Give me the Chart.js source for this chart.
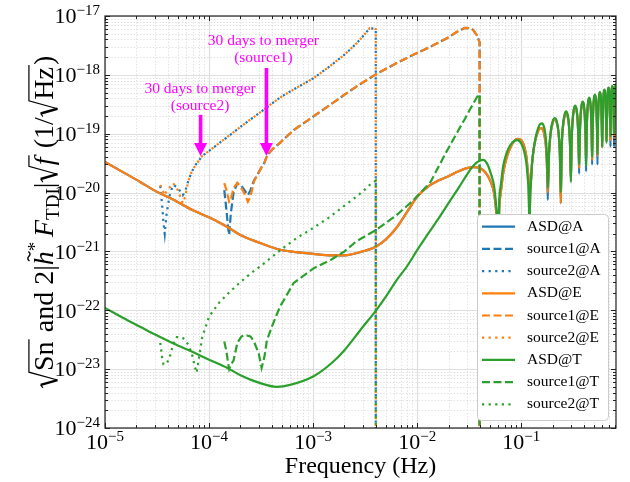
<!DOCTYPE html>
<html>
<head>
<meta charset="utf-8">
<script src="https://cdn.jsdelivr.net/npm/chart.js@4.4.1/dist/chart.umd.min.js"></script>
<style>
  html, body { margin: 0; padding: 0; background: #fff; }
  canvas { display: block; }
</style>
</head>
<body>
<canvas id="chart" width="630" height="482"></canvas>
<script>
// ---- values ----
const xTicks = [1e-5, 1e-4, 1e-3, 1e-2, 1e-1];
const yTicks = [1e-24, 1e-23, 1e-22, 1e-21, 1e-20, 1e-19, 1e-18, 1e-17];
const seriesLabels = ['ASD@A', 'source1@A', 'source2@A', 'ASD@E', 'source1@E', 'source2@E', 'ASD@T', 'source1@T', 'source2@T'];

// noise ASD (A and E overlap, T is the green one)
const asdFreq = [
  1e-5, 1.5e-5, 2.2e-5, 3e-5, 4.6e-5, 7e-5, 1e-4, 1.5e-4, 2e-4, 3e-4, 4.5e-4, 6e-4,
  1e-3, 1.5e-3, 2e-3, 3e-3, 4e-3, 5e-3, 6.3e-3, 8e-3, 0.01, 0.013, 0.016, 0.02, 0.025,
  0.03, 0.035, 0.04, 0.043, 0.047, 0.051, 0.055, 0.058, 0.0595, 0.06,
  0.0605, 0.063, 0.067, 0.072, 0.078, 0.085, 0.092, 0.1, 0.107, 0.112, 0.116, 0.119, 0.12,
  0.1205, 0.123, 0.127, 0.132, 0.138, 0.145, 0.152, 0.159, 0.165, 0.17, 0.174, 0.1775,
  0.18, 0.1848, 0.192, 0.201, 0.21, 0.219, 0.228, 0.2352,
  0.24, 0.2448, 0.252, 0.261, 0.27, 0.279, 0.288, 0.2952,
  0.3, 0.3048, 0.312, 0.321, 0.33, 0.339, 0.348, 0.3552,
  0.36, 0.3648, 0.372, 0.381, 0.39, 0.399, 0.408, 0.4152,
  0.42, 0.4248, 0.432, 0.441, 0.45, 0.459, 0.468, 0.4752,
  0.48, 0.4848, 0.492, 0.501, 0.51, 0.519, 0.528, 0.5352,
  0.54, 0.5448, 0.552, 0.561, 0.57, 0.579, 0.588, 0.5952,
  0.6, 0.6048, 0.612, 0.621, 0.63, 0.639, 0.648, 0.6552,
  0.66, 0.6648, 0.672, 0.681, 0.69, 0.699, 0.708, 0.7152,
  0.72, 0.7248, 0.732, 0.741, 0.75, 0.759, 0.768, 0.7752,
  0.78, 0.7848, 0.792, 0.801, 0.81, 0.814
];
const asdE = [
  3.3e-20, 2.2e-20, 1.5e-20, 1.08e-20, 7.5e-21, 5e-21, 3.8e-21, 2.6e-21, 1.9e-21, 1.42e-21, 1.1e-21, 1e-21,
  9.1e-22, 8.6e-22, 8.6e-22, 1e-21, 1.2e-21, 1.6e-21, 2.5e-21, 4.7e-21, 8.5e-21, 1.3e-20, 1.6e-20, 1.9e-20, 2.3e-20,
  2.6e-20, 2.7e-20, 2.6e-20, 2.4e-20, 2e-20, 1.5e-20, 9.5e-21, 4e-21, 1e-21, 1e-23,
  1.4e-21, 8.8e-21, 2.1e-20, 3.8e-20, 5.6e-20, 7.4e-20, 8.2e-20, 7.8e-20, 6e-20, 4.1e-20, 2.2e-20, 5.5e-21, 1e-23,
  2.1e-21, 1.28e-20, 3.1e-20, 5.6e-20, 8.4e-20, 1.1e-19, 1.25e-19, 1.22e-19, 1.05e-19, 7.8e-20, 5.1e-20, 2.2e-20,
  1e-20, 4.4e-20, 1.03e-19, 1.56e-19, 1.75e-19, 1.56e-19, 1.03e-19, 4.4e-20,
  6.6e-21, 5.6e-20, 1.32e-19, 2e-19, 2.25e-19, 2e-19, 1.32e-19, 5.6e-20,
  1.6e-20, 7.2e-20, 1.7e-19, 2.58e-19, 2.9e-19, 2.58e-19, 1.7e-19, 7.2e-20,
  2.6e-20, 8.5e-20, 2e-19, 3.03e-19, 3.4e-19, 3.03e-19, 2e-19, 8.5e-20,
  3.4e-20, 1e-19, 2.35e-19, 3.56e-19, 4e-19, 3.56e-19, 2.35e-19, 1e-19,
  3.6e-20, 1.12e-19, 2.65e-19, 4e-19, 4.5e-19, 4e-19, 2.65e-19, 1.12e-19,
  4.2e-20, 1.25e-19, 2.94e-19, 4.45e-19, 5e-19, 4.45e-19, 2.94e-19, 1.25e-19,
  5.9e-20, 1.37e-19, 3.23e-19, 4.9e-19, 5.5e-19, 4.9e-19, 3.23e-19, 1.37e-19,
  7.4e-20, 1.5e-19, 3.5e-19, 5.35e-19, 6e-19, 5.35e-19, 3.5e-19, 1.5e-19,
  7.8e-20, 1.6e-19, 3.76e-19, 5.7e-19, 6.4e-19, 5.7e-19, 3.76e-19, 1.6e-19,
  8.5e-20, 1.67e-19, 3.9e-19, 5.9e-19, 6.7e-19, 6.6e-19
];
// A channel equals E except at a few sampled nulls where it dips deeper
const asdADips = { '0.18': 7.5e-21, '0.36': 2.1e-20, '0.42': 2.3e-20, '0.48': 3e-20, '0.54': 3e-20, '0.72': 6e-20, '0.78': 6e-20 };
const asdT = [
  1.1e-22, 7.4e-23, 5.2e-23, 3.9e-23, 2.7e-23, 1.95e-23, 1.45e-23, 1.05e-23, 7.9e-24, 5.9e-24, 5e-24, 5.4e-24,
  7.5e-24, 1.26e-23, 2.1e-23, 5.2e-23, 9.8e-23, 1.7e-22, 3.2e-22, 5.6e-22, 1.05e-21, 2.1e-21, 3.6e-21, 6.6e-21, 1.2e-20,
  2e-20, 2.9e-20, 3.5e-20, 3.6e-20, 3.1e-20, 2.1e-20, 1.25e-20, 5e-21, 1.2e-21, 1e-23,
  2e-21, 1.2e-20, 2.8e-20, 4.6e-20, 6.3e-20, 7.5e-20, 7.8e-20, 6.8e-20, 4.9e-20, 3.2e-20, 1.6e-20, 4e-21, 1e-23,
  1.9e-21, 1.2e-20, 3.1e-20, 5.7e-20, 8.9e-20, 1.23e-19, 1.46e-19, 1.5e-19, 1.33e-19, 1.03e-19, 6.8e-20, 3.1e-20,
  1.2e-20, 4.6e-20, 1.09e-19, 1.65e-19, 1.85e-19, 1.65e-19, 1.09e-19, 4.6e-20,
  1e-20, 6e-20, 1.41e-19, 2.14e-19, 2.4e-19, 2.14e-19, 1.41e-19, 6e-20,
  1.5e-20, 7.5e-20, 1.76e-19, 2.67e-19, 3e-19, 2.67e-19, 1.76e-19, 7.5e-20,
  3e-20, 8.7e-20, 2.06e-19, 3.12e-19, 3.5e-19, 3.12e-19, 2.06e-19, 8.7e-20,
  2.8e-20, 1.02e-19, 2.41e-19, 3.65e-19, 4.1e-19, 3.65e-19, 2.41e-19, 1.02e-19,
  4e-20, 1.15e-19, 2.7e-19, 4.1e-19, 4.6e-19, 4.1e-19, 2.7e-19, 1.15e-19,
  4.5e-20, 1.27e-19, 3e-19, 4.54e-19, 5.1e-19, 4.54e-19, 3e-19, 1.27e-19,
  6e-20, 1.39e-19, 3.29e-19, 5e-19, 5.6e-19, 5e-19, 3.29e-19, 1.39e-19,
  7e-20, 1.52e-19, 3.59e-19, 5.43e-19, 6.1e-19, 5.43e-19, 3.59e-19, 1.52e-19,
  9e-20, 1.62e-19, 3.82e-19, 5.79e-19, 6.5e-19, 5.79e-19, 3.82e-19, 1.62e-19,
  1e-19, 1.7e-19, 4e-19, 6.06e-19, 6.8e-19, 6.7e-19
];
const asdA = asdE.map((v, i) => asdADips[String(asdFreq[i])] || v);

// source1 (dashed), ends at 0.04 Hz
const src1Freq = [
  1.4e-4, 1.47e-4, 1.52e-4, 1.56e-4, 1.62e-4, 1.72e-4, 1.87e-4, 2.05e-4, 2.23e-4, 2.36e-4, 2.5e-4, 2.7e-4,
  3e-4, 3.2e-4, 3.4e-4, 3.6e-4, 4e-4, 4.8e-4, 6.5e-4, 1e-3, 1.5e-3, 2e-3, 2.6e-3, 4e-3, 6.3e-3, 9.2e-3,
  0.0134, 0.0193, 0.0242, 0.0288, 0.0322, 0.0345, 0.0375, 0.0398, 0.0398
];
const src1A = [
  1.1e-20, 5e-21, 2.6e-21, 1.9e-21, 4.5e-21, 1e-20, 1.45e-20, 1.3e-20, 1.05e-20, 9e-21, 1.1e-20, 1.6e-20,
  2.2e-20, 2.7e-20, 3.2e-20, 4.2e-20, 5.3e-20, 7e-20, 1.15e-19, 1.95e-19, 3.2e-19, 4.6e-19, 6.3e-19, 1.02e-18, 1.57e-18, 2.2e-18,
  3e-18, 4.2e-18, 5.4e-18, 6.3e-18, 6.2e-18, 5.8e-18, 4.7e-18, 3.6e-18, 1e-30
];
const src1E = [
  1.45e-20, 1.1e-20, 8.5e-21, 7e-21, 7.7e-21, 1.2e-20, 1.45e-20, 1.2e-20, 9e-21, 7e-21, 8.5e-21, 1.55e-20,
  2.2e-20, 2.7e-20, 3.2e-20, 4.2e-20, 5.3e-20, 7e-20, 1.15e-19, 1.95e-19, 3.2e-19, 4.6e-19, 6.3e-19, 1.02e-18, 1.57e-18, 2.2e-18,
  3e-18, 4.2e-18, 5.4e-18, 6.3e-18, 6.2e-18, 5.8e-18, 4.7e-18, 3.6e-18, 1e-30
];
const src1T = [
  2.95e-23, 2e-23, 1.3e-23, 1e-23, 1.2e-23, 1.4e-23, 2.8e-23, 3.6e-23, 3.8e-23, 3.7e-23, 3.6e-23, 2.95e-23,
  1.85e-23, 1.05e-23, 1.6e-23, 3.1e-23, 5.2e-23, 1.15e-22, 2.9e-22, 5.1e-22, 7.3e-22, 1e-21, 1.48e-21, 2.3e-21, 4.1e-21, 7.4e-21,
  1.5e-20, 5.1e-20, 1.05e-19, 1.8e-19, 2.6e-19, 3.2e-19, 4.2e-19, 4.7e-19, 1e-30
];

// source2 (dotted), ends at 0.004 Hz
const src2Freq = [
  3.4e-5, 3.55e-5, 3.65e-5, 3.75e-5, 3.9e-5, 4.15e-5, 4.5e-5, 4.9e-5, 5.3e-5, 5.6e-5, 5.9e-5, 6.3e-5,
  6.8e-5, 7.3e-5, 7.6e-5, 8e-5, 8.6e-5, 1e-4, 1.25e-4, 1.6e-4, 2e-4, 2.5e-4, 3.2e-4, 4e-4, 5e-4, 7e-4,
  1e-3, 1.4e-3, 2e-3, 2.6e-3, 3.1e-3, 3.5e-3, 3.8e-3, 4e-3, 4e-3
];
const src2A = [
  1.3e-20, 5.8e-21, 3e-21, 2e-21, 4.2e-21, 8.5e-21, 1.35e-20, 1.25e-20, 1.05e-20, 9e-21, 1.05e-20, 1.55e-20,
  2.25e-20, 2.8e-20, 3.15e-20, 3.5e-20, 4.2e-20, 5.1e-20, 6.9e-20, 9.6e-20, 1.3e-19, 1.75e-19, 2.4e-19, 3.25e-19, 4.3e-19, 6.1e-19,
  8.7e-19, 1.34e-18, 2.2e-18, 3.4e-18, 4.8e-18, 6.2e-18, 6.1e-18, 6e-18, 1e-30
];
const src2E = [
  1.35e-20, 1.1e-20, 1e-20, 9e-21, 1.05e-20, 1.2e-20, 1.45e-20, 1.2e-20, 8.5e-21, 6.6e-21, 8.5e-21, 1.55e-20,
  2.25e-20, 2.8e-20, 3.15e-20, 3.5e-20, 4.2e-20, 5.1e-20, 6.9e-20, 9.6e-20, 1.3e-19, 1.75e-19, 2.4e-19, 3.25e-19, 4.3e-19, 6.1e-19,
  8.7e-19, 1.34e-18, 2.2e-18, 3.4e-18, 4.8e-18, 6.2e-18, 6.1e-18, 6e-18, 1e-30
];
const src2T = [
  2.8e-23, 1.5e-23, 1.2e-23, 1.2e-23, 1.25e-23, 1.5e-23, 2.6e-23, 3.5e-23, 3.5e-23, 3.4e-23, 3.1e-23, 2.6e-23,
  1.9e-23, 1.1e-23, 8.7e-24, 1.55e-23, 3.5e-23, 7.8e-23, 1.35e-22, 2.1e-22, 3e-22, 4.2e-22, 5.8e-22, 8e-22, 1.1e-21, 1.7e-21,
  2.5e-21, 3.7e-21, 6e-21, 8.5e-21, 1.1e-20, 1.35e-20, 1.5e-20, 1.6e-20, 1e-30
];

// ---- styling ----
const FONT = '"Liberation Serif", "Times New Roman", serif';
const BLUE = '#1f77b4', ORANGE = '#ff7f0e', GREEN = '#2ca02c';
const LW = 2.2;
const DASH = { solid: [], dashed: [8, 3.5], dotted: [2.2, 4.4] };

function expParts(v) {
  const e = Math.round(Math.log10(v));
  return ['10', (e < 0 ? '\u2212' : '') + Math.abs(e)];
}

function line(label, xs, ys, color, style, smooth) {
  return {
    label: label,
    data: xs.map((x, i) => ({ x: x, y: ys[i] })),
    borderColor: color,
    backgroundColor: color,
    borderWidth: LW,
    borderDash: DASH[style],
    borderCapStyle: 'butt',
    pointRadius: 0,
    fill: false,
    tension: 0,
    cubicInterpolationMode: smooth ? 'monotone' : 'default'
  };
}

const datasets = [
  line(seriesLabels[0], asdFreq, asdA, BLUE, 'solid', true),
  line(seriesLabels[1], src1Freq, src1A, BLUE, 'dashed', false),
  line(seriesLabels[2], src2Freq, src2A, BLUE, 'dotted', false),
  line(seriesLabels[3], asdFreq, asdE, ORANGE, 'solid', true),
  line(seriesLabels[4], src1Freq, src1E, ORANGE, 'dashed', false),
  line(seriesLabels[5], src2Freq, src2E, ORANGE, 'dotted', false),
  line(seriesLabels[6], asdFreq, asdT, GREEN, 'solid', true),
  line(seriesLabels[7], src1Freq, src1T, GREEN, 'dashed', false),
  line(seriesLabels[8], src2Freq, src2T, GREEN, 'dotted', false)
];
// later series are painted on top, like matplotlib
datasets.forEach((d, i) => { d.order = datasets.length - i; });

// minor positions 2..9 x 10^k inside [min, max]
function minorValues(min, max) {
  const out = [];
  for (let k = Math.floor(Math.log10(min)); k <= Math.ceil(Math.log10(max)); k++) {
    for (let m = 2; m <= 9; m++) {
      const v = m * Math.pow(10, k);
      if (v > min && v < max) out.push(v);
    }
  }
  return out;
}

// grid under the lines, frame and inward ticks above them
const gridPlugin = {
  id: 'mplGrid',
  beforeDatasetsDraw(chart) {
    const { ctx, chartArea: a, scales: { x, y } } = chart;
    ctx.save();
    ctx.lineWidth = 0.8;
    ctx.strokeStyle = '#d4d4d4';
    ctx.setLineDash([1.2, 2]);
    minorValues(x.min, x.max).forEach(v => {
      const px = Math.round(x.getPixelForValue(v)) + 0.5;
      ctx.beginPath(); ctx.moveTo(px, a.top); ctx.lineTo(px, a.bottom); ctx.stroke();
    });
    minorValues(y.min, y.max).forEach(v => {
      const py = Math.round(y.getPixelForValue(v)) + 0.5;
      ctx.beginPath(); ctx.moveTo(a.left, py); ctx.lineTo(a.right, py); ctx.stroke();
    });
    ctx.setLineDash([]);
    ctx.lineWidth = 1.2;
    ctx.strokeStyle = '#dedede';
    xTicks.forEach(v => {
      const px = Math.round(x.getPixelForValue(v)) + 0.5;
      ctx.beginPath(); ctx.moveTo(px, a.top); ctx.lineTo(px, a.bottom); ctx.stroke();
    });
    yTicks.forEach(v => {
      const py = Math.round(y.getPixelForValue(v)) + 0.5;
      ctx.beginPath(); ctx.moveTo(a.left, py); ctx.lineTo(a.right, py); ctx.stroke();
    });
    ctx.restore();
  },
  afterDatasetsDraw(chart) {
    const { ctx, chartArea: a, scales: { x, y } } = chart;
    ctx.save();
    ctx.strokeStyle = '#222';
    ctx.lineWidth = 1;
    const tick = (x0, y0, x1, y1) => { ctx.beginPath(); ctx.moveTo(x0, y0); ctx.lineTo(x1, y1); ctx.stroke(); };
    const xs = [[xTicks, 5], [minorValues(x.min, x.max), 3]];
    xs.forEach(([vals, len]) => vals.forEach(v => {
      const px = Math.round(x.getPixelForValue(v)) + 0.5;
      tick(px, a.bottom, px, a.bottom - len);
      tick(px, a.top, px, a.top + len);
    }));
    const ys = [[yTicks, 5], [minorValues(y.min, y.max), 3]];
    ys.forEach(([vals, len]) => vals.forEach(v => {
      const py = Math.round(y.getPixelForValue(v)) + 0.5;
      tick(a.left, py, a.left + len, py);
      tick(a.right, py, a.right - len, py);
    }));
    ctx.lineWidth = 1.2;
    ctx.strokeRect(a.left, a.top, a.right - a.left, a.bottom - a.top);
    ctx.restore();
  }
};

// "10" with a raised exponent, like mathtext
const tickLabelPlugin = {
  id: 'tickLabels',
  afterDraw(chart) {
    const { ctx, chartArea: a, scales: { x, y } } = chart;
    const big = '22px ' + FONT, small = '15px ' + FONT;
    ctx.save();
    ctx.fillStyle = '#000';
    ctx.textAlign = 'left';
    ctx.textBaseline = 'alphabetic';
    const draw = (v, x0, base) => {
      const [b, e] = expParts(v);
      ctx.font = big; ctx.fillText(b, x0, base);
      const wb = ctx.measureText(b).width;
      ctx.font = small; ctx.fillText(e, x0 + wb, base - 8);
    };
    const width = v => {
      const [b, e] = expParts(v);
      ctx.font = big; const wb = ctx.measureText(b).width;
      ctx.font = small; return wb + ctx.measureText(e).width;
    };
    xTicks.forEach(v => draw(v, x.getPixelForValue(v) - width(v) / 2, a.bottom + 21));
    yTicks.forEach(v => draw(v, a.left - 5 - width(v), y.getPixelForValue(v) + 7.3));
    ctx.restore();
  }
};

// magenta "30 days to merger" callouts
const notes = [
  { text: ['30 days to merger', '(source1)'], textAt: [3.33e-4, 3.76e-18], tail: [3.56e-4, 1.31e-18], tip: [3.56e-4, 4.2e-20] },
  { text: ['30 days to merger', '(source2)'], textAt: [8.2e-5, 5.75e-19], tail: [8.29e-5, 2.09e-19], tip: [8.29e-5, 4.2e-20] }
];
const notePlugin = {
  id: 'notes',
  afterDatasetsDraw(chart) {
    const { ctx, scales: { x, y } } = chart;
    ctx.save();
    ctx.fillStyle = '#ff00ff';
    ctx.font = '15.5px ' + FONT;
    ctx.textAlign = 'center';
    ctx.textBaseline = 'middle';
    notes.forEach(n => {
      const tx = x.getPixelForValue(n.textAt[0]);
      const ty = y.getPixelForValue(n.textAt[1]);
      n.text.forEach((s, i) => ctx.fillText(s, tx, ty + i * 17));
      const ax = x.getPixelForValue(n.tip[0]);
      const y0 = y.getPixelForValue(n.tail[1]);
      const y1 = y.getPixelForValue(n.tip[1]);
      const head = 13, hw = 6.5, sw = 1.8;
      ctx.fillRect(ax - sw, y0, 2 * sw, y1 - head - y0 + 1);
      ctx.beginPath();
      ctx.moveTo(ax - hw, y1 - head); ctx.lineTo(ax + hw, y1 - head); ctx.lineTo(ax, y1);
      ctx.closePath(); ctx.fill();
    });
    ctx.restore();
  }
};

// legend box in the lower right of the plot
const legendPlugin = {
  id: 'mplLegend',
  afterDraw(chart) {
    const { ctx, chartArea: a } = chart;
    const w = 131, h = 206;
    const bx = a.right - 8 - w, by = a.bottom - 8 - h;
    ctx.save();
    ctx.beginPath();
    ctx.roundRect(bx + 0.5, by + 0.5, w, h, 4);
    ctx.fillStyle = '#ffffff';
    ctx.fill();
    ctx.strokeStyle = '#cccccc';
    ctx.lineWidth = 1;
    ctx.stroke();
    ctx.font = '15.5px ' + FONT;
    ctx.textBaseline = 'middle';
    ctx.textAlign = 'left';
    chart.data.datasets.forEach((d, i) => {
      const cy = by + 12.7 + i * 22.2;
      ctx.strokeStyle = d.borderColor;
      ctx.lineWidth = LW;
      ctx.setLineDash(d.borderDash);
      ctx.lineCap = 'butt';
      ctx.beginPath(); ctx.moveTo(bx + 5, cy); ctx.lineTo(bx + 38, cy); ctx.stroke();
      ctx.setLineDash([]);
      ctx.fillStyle = '#000';
      ctx.fillText(d.label, bx + 50, cy);
    });
    ctx.restore();
  }
};

// rotated y label with radicals and subscripts
const yLabelPlugin = {
  id: 'yLabel',
  afterDraw(chart) {
    const ctx = chart.ctx;
    const fs = 28, small = 19;
    const rm = fs + 'px ' + FONT, it = 'italic ' + fs + 'px ' + FONT, sm = small + 'px ' + FONT;
    const parts = [
      { t: 'Sn', f: rm, rad: true },
      { t: ' and 2|', f: rm },
      { t: 'h', f: it, tilde: true },
      { t: '*', f: sm, dy: -0.42 * fs },
      { t: ' ', f: sm },
      { t: 'F', f: it },
      { t: 'TDI', f: sm, dy: 0.22 * fs },
      { t: '|', f: rm },
      { t: 'f', f: it, rad: true },
      { t: ' (1/', f: rm },
      { t: 'Hz', f: rm, rad: true },
      { t: ')', f: rm }
    ];
    const radW = 0.62 * fs;
    let total = 0;
    parts.forEach(p => {
      ctx.font = p.f;
      p.w = ctx.measureText(p.t).width + (p.rad ? radW + 0.08 * fs : 0);
      total += p.w;
    });
    const cy = (chart.chartArea.top + chart.chartArea.bottom) / 2;
    ctx.save();
    ctx.translate(53, cy);
    ctx.rotate(-Math.PI / 2);
    ctx.fillStyle = '#000';
    ctx.strokeStyle = '#000';
    ctx.textBaseline = 'alphabetic';
    let x = -total / 2;
    parts.forEach(p => {
      ctx.font = p.f;
      let tx = x;
      if (p.rad) {
        const tw = ctx.measureText(p.t).width;
        ctx.lineWidth = 1.2;
        ctx.beginPath();
        ctx.moveTo(x + 0.02 * fs, -0.36 * fs);
        ctx.lineTo(x + 0.13 * fs, -0.44 * fs);
        ctx.stroke();
        ctx.lineWidth = 2.4;
        ctx.beginPath();
        ctx.moveTo(x + 0.13 * fs, -0.44 * fs);
        ctx.lineTo(x + 0.3 * fs, 0.16 * fs);
        ctx.stroke();
        ctx.lineWidth = 1.2;
        ctx.beginPath();
        ctx.moveTo(x + 0.3 * fs, 0.16 * fs);
        ctx.lineTo(x + 0.58 * fs, -0.86 * fs);
        ctx.lineTo(x + radW + tw + 0.08 * fs, -0.86 * fs);
        ctx.stroke();
        tx = x + radW;
      }
      ctx.fillText(p.t, tx, p.dy || 0);
      if (p.tilde) {
        const c = tx + 0.32 * fs, ty = -0.86 * fs, hw = 0.17 * fs;
        ctx.lineWidth = 1.4;
        ctx.beginPath();
        ctx.moveTo(c - hw, ty + 0.02 * fs);
        ctx.quadraticCurveTo(c - hw / 2, ty - 0.09 * fs, c, ty);
        ctx.quadraticCurveTo(c + hw / 2, ty + 0.09 * fs, c + hw, ty - 0.02 * fs);
        ctx.stroke();
      }
      x += p.w;
    });
    ctx.restore();
  }
};

new Chart(document.getElementById('chart'), {
  type: 'line',
  data: { datasets: datasets },
  options: {
    responsive: false,
    animation: false,
    devicePixelRatio: 1,
    layout: { padding: { top: 16, right: 14, left: 0, bottom: 0 } },
    plugins: { legend: { display: false }, tooltip: { enabled: false } },
    elements: { point: { radius: 0 } },
    scales: {
      x: {
        type: 'logarithmic',
        min: 1e-5,
        max: 0.814,
        grid: { display: false, drawTicks: false },
        border: { display: false },
        ticks: { display: false, autoSkip: false, callback: v => expParts(v).join('') },
        afterBuildTicks: s => { s.ticks = xTicks.map(v => ({ value: v })); },
        afterFit: s => { s.height = 54; },
        title: {
          display: true, text: 'Frequency (Hz)', color: '#000',
          font: { family: FONT, size: 24 }, padding: { top: 0, bottom: 1 }
        }
      },
      y: {
        type: 'logarithmic',
        min: 1e-24,
        max: 1e-17,
        grid: { display: false, drawTicks: false },
        border: { display: false },
        ticks: { display: false, autoSkip: false, callback: v => expParts(v).join('') },
        afterBuildTicks: s => { s.ticks = yTicks.map(v => ({ value: v })); },
        afterFit: s => { s.width = 105; }
      }
    }
  },
  plugins: [gridPlugin, notePlugin, tickLabelPlugin, legendPlugin, yLabelPlugin]
});
</script>
</body>
</html>
